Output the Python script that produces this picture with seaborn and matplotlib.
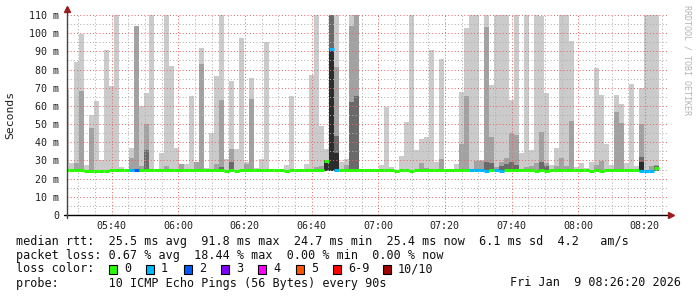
import matplotlib
matplotlib.use("Agg")
import numpy as np
import pandas as pd
import seaborn as sns
import matplotlib.pyplot as plt
import matplotlib.dates as mdates
from matplotlib.patches import Rectangle
from matplotlib.lines import Line2D
from datetime import datetime, timedelta

# ---------------- data ----------------
start_time = datetime(2026, 1, 9, 5, 25, 45)   # first 90 s interval
step_seconds = 90
view_start = datetime(2026, 1, 9, 5, 26, 39)
view_end = datetime(2026, 1, 9, 8, 26, 39)

# smoke layers (ms): top of light / mid / dark / darkest band per interval (0 = none)
smoke_light = [69, 28.8, 84.4, 99.6, 27.5, 55, 62.7, 30.2, 90.8, 71,
               115, 26.6, 0, 37, 104, 60, 67, 115, 0, 34.3,
               115, 82, 36.9, 28, 28, 65.5, 29.3, 91.9, 25.9, 45,
               76.5, 115, 30.8, 73.7, 36.3, 97.4, 29, 75.4, 25.9, 30.8,
               95.2, 0, 0, 0, 27.5, 65.5, 0, 0, 28, 77,
               115, 49, 36.3, 115, 115, 29, 30.8, 115, 115, 0,
               0, 0, 0, 27.5, 59.4, 26.6, 0, 32.5, 51.2, 115,
               35.7, 41.8, 42.9, 90.8, 29, 85.8, 0, 0, 28, 67.7,
               102.9, 115, 115, 30.2, 115, 71.5, 115, 115, 115, 63.3,
               115, 34.1, 115, 35.7, 115, 109.5, 67, 27.5, 36.9, 115,
               115, 95.7, 26.4, 28.6, 25.9, 29, 80.9, 66, 39, 27.5,
               66, 61, 28.6, 72, 27, 69.9, 115, 115, 115]
smoke_mid = [0, 0, 28.8, 68.2, 0, 48, 0, 0, 0, 0,
             0, 0, 0, 31.3, 104, 27, 50, 0, 0, 0,
             27, 0, 0, 28, 0, 0, 29.3, 83, 0, 0,
             28, 63.3, 0, 36.3, 0, 0, 28, 63.8, 0, 0,
             0, 0, 0, 0, 0, 0, 0, 0, 0, 0,
             26.4, 27, 30, 115, 81.2, 0, 27.5, 104, 115, 0,
             0, 0, 0, 0, 0, 0, 0, 0, 0, 0,
             0, 28.6, 25.9, 0, 0, 30.8, 0, 0, 0, 39,
             65.5, 0, 29.7, 29.7, 103.4, 42.9, 26.4, 29, 31.4, 45.1,
             44, 0, 26.4, 27, 28.6, 45.6, 28.6, 0, 27, 31.4,
             27, 51.7, 0, 0, 0, 0, 27.5, 29.7, 0, 0,
             56.7, 50.6, 0, 0, 0, 50, 0, 27, 27.5]
smoke_dark = [0, 0, 0, 0, 0, 0, 0, 0, 0, 0,
              0, 0, 0, 0, 0, 0, 35.7, 0, 0, 0,
              0, 0, 0, 0, 0, 0, 0, 0, 0, 0,
              0, 26.6, 0, 29, 0, 0, 0, 0, 0, 0,
              0, 0, 0, 0, 0, 0, 0, 0, 0, 0,
              0, 0, 0, 115, 43.5, 0, 0, 62, 65.5, 0,
              0, 0, 0, 0, 0, 0, 0, 0, 0, 0,
              0, 0, 0, 0, 0, 0, 0, 0, 0, 0,
              0, 0, 0, 0, 29, 28.6, 0, 27, 28, 29,
              27.5, 0, 0, 0, 0, 29, 27, 0, 0, 0,
              0, 0, 0, 0, 0, 0, 0, 0, 0, 0,
              0, 0, 0, 0, 0, 32, 0, 0, 27]
smoke_darkest = [0] * 52 + [30, 91.3, 34] + [0] * 60 + [29, 0, 0, 0]
smoke_floor = 24.0

median_rtt = [24.8, 24.8, 24.8, 24.8, 24.3, 24.3, 24.3, 24.3, 24.3, 24.8,
              24.8, 24.8, 24.8, 24.8, 24.8, 24.8, 24.8, 24.8, 24.8, 24.8,
              24.8, 24.8, 24.8, 24.8, 24.8, 24.8, 24.8, 24.8, 24.8, 24.8,
              24.8, 24.8, 24.3, 24.8, 24.3, 24.8, 24.8, 24.8, 24.8, 24.8,
              24.8, 24.8, 24.8, 24.8, 24.3, 24.8, 24.8, 24.8, 24.8, 24.8,
              24.8, 24.8, 29.9, 91.3, 24.8, 24.8, 24.8, 24.8, 24.8, 24.8,
              24.8, 24.8, 24.8, 24.8, 24.8, 24.8, 24.3, 24.8, 24.8, 24.3,
              24.8, 24.8, 24.8, 24.8, 24.8, 24.8, 24.8, 24.8, 24.8, 24.8,
              24.8, 24.8, 24.8, 24.8, 24.3, 24.8, 24.8, 24.3, 24.8, 24.8,
              24.8, 24.8, 24.8, 24.8, 24.3, 24.8, 24.3, 24.8, 24.8, 24.8,
              24.8, 24.8, 24.8, 24.8, 24.8, 24.3, 24.8, 24.3, 24.8, 24.8,
              24.8, 24.8, 24.8, 24.8, 24.8, 24.3, 24.3, 24.3, 25.6]
loss_count = [0] * 13 + [1, 2] + [0] * 38 + [1, 1] + [0] * 26 + [1, 1, 1, 1, 0, 1, 1] + [0] * 27 + [1, 1, 1, 0]

loss_labels = ["0", "1", "2", "3", "4", "5", "6-9", "10/10"]
loss_colors = ["#26ff00", "#00b8ff", "#0059ff", "#7e00ff", "#ff00ff", "#ff5500", "#ff0000", "#a10000"]

y_ticks = [0, 10, 20, 30, 40, 50, 60, 70, 80, 90, 100, 110]
y_tick_labels = ["0", "10 m", "20 m", "30 m", "40 m", "50 m", "60 m", "70 m",
                 "80 m", "90 m", "100 m", "110 m"]

legend_lines = [
    "median rtt:  25.5 ms avg  91.8 ms max  24.7 ms min  25.4 ms now  6.1 ms sd  4.2   am/s",
    "packet loss: 0.67 % avg  18.44 % max  0.00 % min  0.00 % now",
    "loss color:",
    "probe:       10 ICMP Echo Pings (56 Bytes) every 90s",
]
stamp_text = "Fri Jan  9 08:26:20 2026"
watermark = "RRDTOOL / TOBI OETIKER"
y_title = "Seconds"

# ---------------- style ----------------
sns.set_theme(style="white")
plt.rcParams["font.family"] = ["DejaVu Sans Mono", "DejaVu Sans"]

W, H = 697, 297
fig = plt.figure(figsize=(W / 100, H / 100), dpi=100)
fig.patch.set_facecolor("white")
ax = fig.add_axes([67 / W, 82 / H, 600 / W, 200 / H])
ax.set_facecolor("white")

n = len(smoke_light)
times = [start_time + timedelta(seconds=step_seconds * i) for i in range(n)]
tnum = mdates.date2num(times)
width = step_seconds / 86400.0

layers = [(smoke_light, "#cbcbcb"), (smoke_mid, "#a2a2a2"),
          (smoke_dark, "#6a6a6a"), (smoke_darkest, "#2c2c2c")]
for tops, col in layers:
    tops = np.asarray(tops, dtype=float)
    m = tops > smoke_floor
    ax.bar(tnum[m], tops[m] - smoke_floor, bottom=smoke_floor, width=width,
           align="edge", color=col, linewidth=0, zorder=1)

# median line: one short step per interval, coloured by loss
rows = []
for i in range(n):
    for t in (times[i], times[i] + timedelta(seconds=step_seconds)):
        rows.append({"t": t, "ms": median_rtt[i], "unit": i,
                     "loss": loss_labels[loss_count[i]] if loss_count[i] < 6 else "6-9"})
med = pd.DataFrame(rows)
sns.lineplot(data=med, x="t", y="ms", units="unit", estimator=None, hue="loss",
             palette=dict(zip(loss_labels, loss_colors)), legend=False,
             linewidth=2.2, ax=ax, zorder=4, solid_capstyle="butt")

ax.set_xlim(view_start, view_end)
ax.set_ylim(0, 110)
ax.set_xlabel("")
ax.set_ylabel("")

ax.xaxis.set_major_locator(mdates.MinuteLocator(byminute=[0, 20, 40]))
ax.xaxis.set_minor_locator(mdates.MinuteLocator(byminute=range(0, 60, 5)))
ax.xaxis.set_major_formatter(mdates.DateFormatter("%H:%M"))
ax.set_yticks(y_ticks)
ax.set_yticklabels(y_tick_labels)
ax.set_yticks(np.arange(5, 110, 10), minor=True)

ax.grid(True, which="minor", color="#b0b0b0", linestyle=(0, (1, 2.2)), linewidth=0.72, zorder=3)
ax.grid(True, which="major", color="#e86464", linestyle=(0, (1, 2.2)), linewidth=0.72, zorder=3)
ax.set_axisbelow(False)

ax.tick_params(axis="both", which="both", direction="out", color="#777777",
               labelsize=7.2, labelcolor="#202020", width=0.7)
ax.tick_params(axis="both", which="major", length=2.5)
ax.tick_params(axis="both", which="minor", length=1.5)
ax.tick_params(axis="x", pad=2)
ax.tick_params(axis="y", pad=3)
for s in ax.spines.values():
    s.set_visible(False)

# axis lines with arrows
fig.add_artist(Line2D([64 / W, 670 / W], [1 - 215 / H, 1 - 215 / H], color="black", lw=1.0))
fig.add_artist(Line2D([67 / W, 67 / W], [1 - 218 / H, 1 - 9 / H], color="#444444", lw=1.0))
fig.add_artist(Line2D([67 / W], [1 - 9 / H], marker="^", markersize=4, color="#9b1c1c", lw=0))
fig.add_artist(Line2D([671 / W], [1 - 215 / H], marker=">", markersize=4, color="#9b1c1c", lw=0))

# titles
fig.text(10 / W, 1 - 115 / H, y_title, rotation=90, ha="center", va="center",
         fontsize=8.2, color="#202020")
fig.text(687 / W, 1 - 5 / H, watermark, rotation=270, ha="center", va="top",
         fontsize=6, color="#b4b4b4")

# legend block
ys = [241, 255, 269, 283]
for txt, yy in zip(legend_lines, ys):
    fig.text(16 / W, 1 - yy / H, txt, ha="left", va="center", fontsize=8.5, color="#101010")
fig.text(681 / W, 1 - 283 / H, stamp_text, ha="right", va="center", fontsize=8.5, color="#101010")

square_x = [109, 146, 184, 221, 258, 296, 333, 383]
for sx, lab, col in zip(square_x, loss_labels, loss_colors):
    fig.add_artist(Rectangle((sx / W, 1 - 273.5 / H), 8 / W, 9 / H, facecolor=col,
                             edgecolor="black", linewidth=0.8, transform=fig.transFigure))
    fig.text((sx + 15) / W, 1 - 269 / H, lab, ha="left", va="center", fontsize=8.5, color="#101010")

fig.savefig("out.png", dpi=100, facecolor="white")
